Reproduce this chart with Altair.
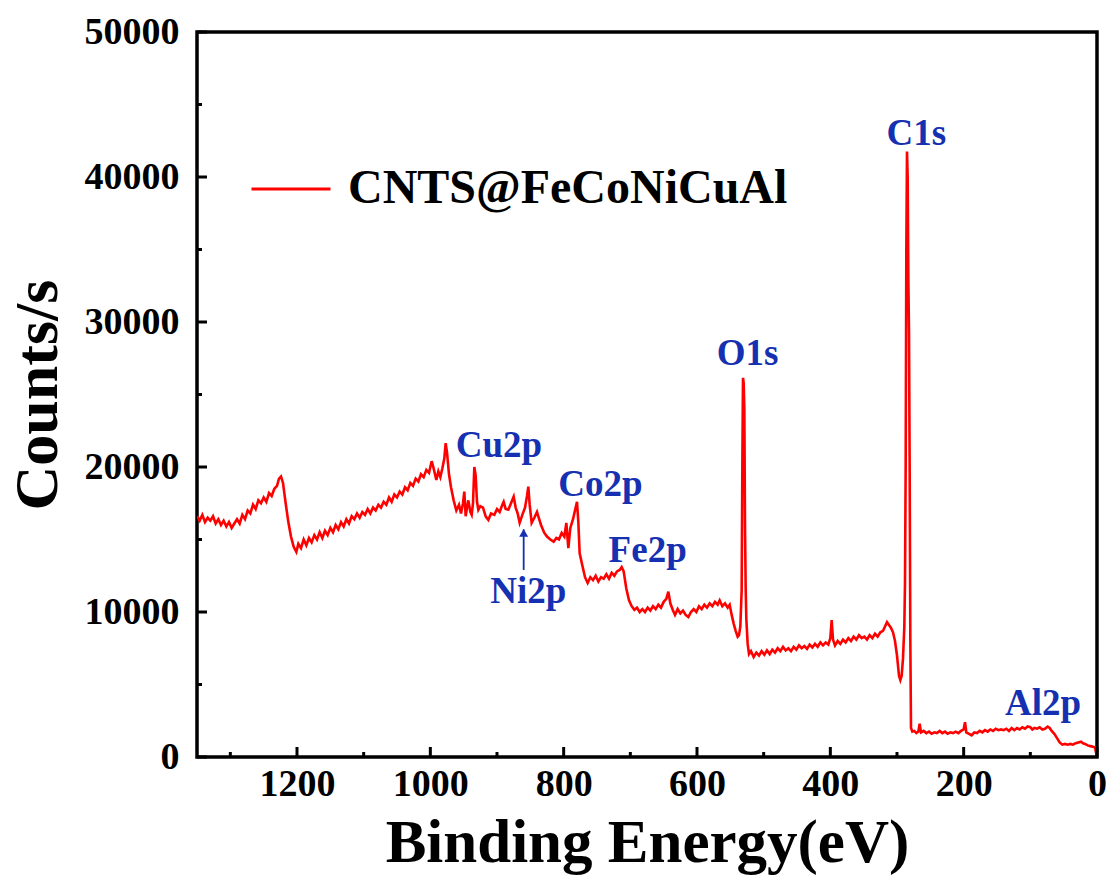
import altair as alt
import pandas as pd

# ---- spectrum (binding energy in eV, counts/s) ----
be = [1350, 1346, 1342, 1338, 1334, 1330, 1326, 1322, 1318, 1314, 1310, 1306, 1302, 1298, 1294,
      1290, 1286, 1282, 1278, 1274, 1270, 1266, 1262, 1258, 1254, 1250, 1246, 1242, 1238, 1234,
      1230, 1227, 1224, 1221, 1217, 1213, 1209, 1205, 1201, 1198, 1194, 1190, 1186, 1182, 1178,
      1174, 1170, 1166, 1162, 1158, 1154, 1150, 1146, 1142, 1138, 1134, 1130, 1126, 1122, 1118,
      1114, 1110, 1106, 1102, 1098, 1094, 1090, 1086, 1082, 1078, 1074, 1070, 1066, 1062, 1058,
      1054, 1050, 1046, 1042, 1038, 1034, 1030, 1026, 1022, 1018, 1014, 1010, 1006, 1002, 998,
      995, 991, 988, 985, 982, 979, 977, 975, 972, 969, 965, 961, 957, 954, 951,
      949, 947, 945, 943, 940, 938, 936, 934, 932, 930, 928, 925, 921, 917, 913,
      909, 904, 900, 896, 892, 890, 887, 883, 879, 875, 872, 869, 866, 862, 858,
      855, 853, 851, 848, 844, 840, 838, 834, 829, 825, 820, 815, 811, 807, 803,
      799, 796, 793, 790, 786, 782, 780, 778, 776, 772, 768, 764, 760, 756, 752,
      748, 744, 740, 736, 732, 728, 724, 720, 716, 713, 710, 706, 702, 698, 694,
      690, 686, 682, 678, 674, 670, 666, 662, 658, 654, 650, 646, 643, 640, 636,
      633, 629, 625, 621, 617, 613, 609, 605, 601, 597, 593, 589, 585, 581, 577,
      573, 569, 566, 562, 558, 554, 551, 548, 545, 542, 539, 537, 535, 533, 532,
      531, 530, 529, 528, 527, 526, 524, 522, 519, 515, 511, 507, 503, 499, 495,
      491, 487, 483, 479, 475, 471, 467, 463, 459, 455, 451, 447, 443, 439, 435,
      431, 427, 423, 419, 415, 411, 407, 403, 400, 398, 396, 393, 389, 385, 381,
      377, 373, 369, 365, 361, 357, 353, 349, 345, 341, 337, 333, 329, 325, 321,
      318, 315, 312, 309, 306, 303, 300, 297, 295, 293, 291, 289, 288, 287, 286,
      285, 284, 283, 282, 281, 280, 279, 277, 274, 271, 268, 266, 264, 260, 256,
      252, 248, 244, 240, 236, 232, 228, 224, 220, 216, 212, 208, 204, 200, 198,
      196, 192, 188, 184, 180, 176, 172, 168, 164, 160, 156, 152, 148, 144, 140,
      136, 132, 128, 124, 120, 116, 112, 108, 104, 100, 97, 94, 90, 86, 82,
      78, 74, 71, 68, 64, 60, 56, 52, 48, 44, 40, 36, 32, 28, 24,
      21, 18, 14, 10, 6, 3, 1]
counts = [16600, 16300, 16700, 16200, 16500, 16300, 16600, 16100, 16400, 16000, 16300, 15900, 16200, 15800, 16100,
          16400, 16100, 16700, 16400, 17000, 16800, 17400, 17100, 17700, 17500, 17900, 17600, 18200, 18000, 18500,
          18700, 19200, 19350, 18900, 17500, 16200, 15200, 14500, 14150, 14700, 14400, 15000, 14600, 15100, 14800,
          15300, 15000, 15500, 15100, 15600, 15300, 15800, 15500, 16000, 15700, 16200, 15900, 16400, 16100, 16600,
          16400, 16800, 16500, 16900, 16700, 17100, 16800, 17200, 17000, 17400, 17200, 17600, 17400, 17900, 17600,
          18100, 17900, 18300, 18100, 18600, 18400, 18900, 18700, 19200, 19000, 19500, 19300, 19800, 19600, 20400,
          19900, 19100, 19700, 19300, 19900, 20600, 21650, 21000, 19500, 18600, 17700, 17000, 17400, 16800, 17500,
          18300, 16600, 17200, 17700, 16900, 16700, 17500, 20000, 19400, 17600, 17050, 17300, 17200, 16600, 16350,
          16800, 16700, 17100, 16900, 17400, 17600, 17100, 17050, 17500, 17950, 17200, 16800, 16150, 16700, 17200,
          18000, 18650, 17400, 16150, 16500, 16900, 16600, 16000, 15450, 15200, 15000, 14850, 15100, 15000, 15450,
          15200, 16150, 14400, 15800, 16400, 17200, 17600, 16200, 14050, 13200, 12400, 12000, 12400, 12200, 12500,
          12100, 12400, 12300, 12600, 12300, 12700, 12500, 12800, 12900, 13100, 12800, 11600, 10800, 10400, 10150,
          10300, 10000, 10200, 10000, 10300, 10100, 10400, 10200, 10500, 10300, 10700, 10900, 11400, 10600, 10100,
          9800, 10200, 9900, 10100, 9800, 9650, 10000, 10200, 10000, 10400, 10200, 10500, 10300, 10600, 10400,
          10700, 10500, 10800, 10400, 10600, 10300, 10500, 9800, 9200, 8700, 8300, 8400, 9000, 11500, 20000,
          26150, 25800, 24000, 16000, 11700, 9500, 7800, 7100, 7300, 6900, 7200, 7000, 7300, 7050, 7350,
          7100, 7400, 7200, 7500, 7300, 7600, 7350, 7500, 7300, 7600, 7400, 7700, 7500, 7650, 7450,
          7750, 7550, 7800, 7600, 7900, 7700, 7900, 7750, 8200, 9450, 8100, 7700, 8000, 7800, 8100,
          7900, 8200, 8000, 8300, 8100, 8400, 8200, 8300, 8100, 8400, 8200, 8500, 8300, 8600, 8700,
          9000, 9300, 9100, 8900, 8600, 8000, 7000, 5600, 5300, 5600, 6800, 9000, 12000, 20000, 35000,
          41750, 40000, 33000, 29300, 20000, 8000, 2000, 1750, 1800, 1650, 1750, 2300, 1700, 1800, 1650,
          1750, 1600, 1700, 1650, 1800, 1650, 1750, 1600, 1700, 1650, 1750, 1650, 1800, 1900, 2400,
          1700, 1600, 1500, 1700, 1650, 1800, 1700, 1850, 1750, 1900, 1800, 1950, 1850, 1900, 1850,
          1950, 1800, 2000, 1850, 2000, 1900, 2050, 1950, 2100, 2050, 1900, 2000, 1950, 2050, 1900,
          1950, 2100, 2000, 1800, 1600, 1300, 1000, 850, 900, 850, 900, 850, 950, 1000, 1050,
          950, 900, 800, 750, 700, 650, 200]

series_name = "CNTS@FeCoNiCuAl"

# ---- axes ----
x_major = [0, 200, 400, 600, 800, 1000, 1200]
x_minor = [100, 300, 500, 700, 900, 1100, 1300]
y_major = [0, 10000, 20000, 30000, 40000, 50000]
y_minor = [5000, 15000, 25000, 35000, 45000]

# ---- peak annotations ----
peak_labels = ["C1s", "O1s", "Cu2p", "Co2p", "Fe2p", "Ni2p", "Al2p"]
label_be = [271, 524, 897, 745, 674, 853, 81]
label_counts = [42210, 27040, 20690, 18000, 13450, 10620, 2900]

arrow_be = [860]
arrow_bottom = [12900]
arrow_top = [15700]
arrow_head = [15450]

W, H = 900, 725
FONT = "Liberation Serif"
BLUE = "#1530b0"

xs = alt.Scale(domain=[0, 1350], reverse=True, nice=False, zero=False)
ys = alt.Scale(domain=[0, 50000], nice=False)

df = pd.DataFrame({"be": be, "counts": counts, "series": series_name})

line = alt.Chart(df).mark_line(strokeWidth=2.6, clip=True).encode(
    x=alt.X("be:Q", scale=xs,
            axis=alt.Axis(values=x_major, format="d", title="Binding Energy(eV)", labelFlush=False,
                          ticks=False, domain=False, grid=False, labelPadding=8,
                          titleY=104, titleBaseline="alphabetic")),
    y=alt.Y("counts:Q", scale=ys,
            axis=alt.Axis(values=y_major, format="d", title="Counts/s", labelFlush=False,
                          ticks=False, domain=False, grid=False, labelPadding=18,
                          titleX=-160, titleY=H / 2, titleBaseline="middle", titleAngle=270)),
    color=alt.Color("series:N", scale=alt.Scale(domain=[series_name], range=["#ff0000"]),
                    legend=alt.Legend(title=None, orient="none", legendX=53, legendY=116,
                                      symbolType="stroke", symbolSize=6241, symbolStrokeWidth=3,
                                      labelFontSize=48, labelFont=FONT, labelFontWeight="bold",
                                      labelColor="black", labelOffset=16, labelLimit=0)),
)

xmaj = alt.Chart(pd.DataFrame({"v": x_major})).mark_rule(color="black", strokeWidth=3).encode(
    x=alt.X("v:Q", scale=xs), y=alt.value(H), y2=alt.value(H - 10))
xmin = alt.Chart(pd.DataFrame({"v": x_minor})).mark_rule(color="black", strokeWidth=3).encode(
    x=alt.X("v:Q", scale=xs), y=alt.value(H), y2=alt.value(H - 5))
ymaj = alt.Chart(pd.DataFrame({"v": y_major})).mark_rule(color="black", strokeWidth=3).encode(
    y=alt.Y("v:Q", scale=ys), x=alt.value(0), x2=alt.value(10))
ymin = alt.Chart(pd.DataFrame({"v": y_minor})).mark_rule(color="black", strokeWidth=3).encode(
    y=alt.Y("v:Q", scale=ys), x=alt.value(0), x2=alt.value(5))

labels = alt.Chart(pd.DataFrame({"t": peak_labels, "be": label_be, "c": label_counts})).mark_text(
    font=FONT, fontWeight="bold", fontSize=37, color=BLUE, align="center", baseline="alphabetic"
).encode(x=alt.X("be:Q", scale=xs), y=alt.Y("c:Q", scale=ys), text="t:N")

adf = pd.DataFrame({"be": arrow_be, "b": arrow_bottom, "t": arrow_top, "h": arrow_head})
arrow_line = alt.Chart(adf).mark_rule(color=BLUE, strokeWidth=1.8).encode(
    x=alt.X("be:Q", scale=xs), y=alt.Y("b:Q", scale=ys), y2="t:Q")
arrow_tip = alt.Chart(adf).mark_point(shape="triangle-up", filled=True, color=BLUE, size=80, opacity=1).encode(
    x=alt.X("be:Q", scale=xs), y=alt.Y("h:Q", scale=ys))

chart = alt.layer(line, xmaj, xmin, ymaj, ymin, labels, arrow_line, arrow_tip).properties(
    width=W, height=H,
    autosize=alt.AutoSizeParams(type="none"),
    padding={"left": 197, "top": 32, "right": 13, "bottom": 135},
).configure(font=FONT).configure_view(stroke="black", strokeWidth=3.5).configure_axis(
    labelFont=FONT, labelFontSize=38, labelFontWeight="bold", labelColor="black",
    titleFont=FONT, titleFontWeight="bold", titleColor="black", titleFontSize=61,
).configure_axisY(titleFontSize=62)

chart.save("out.html", embed_options={"renderer": "svg", "actions": False})
